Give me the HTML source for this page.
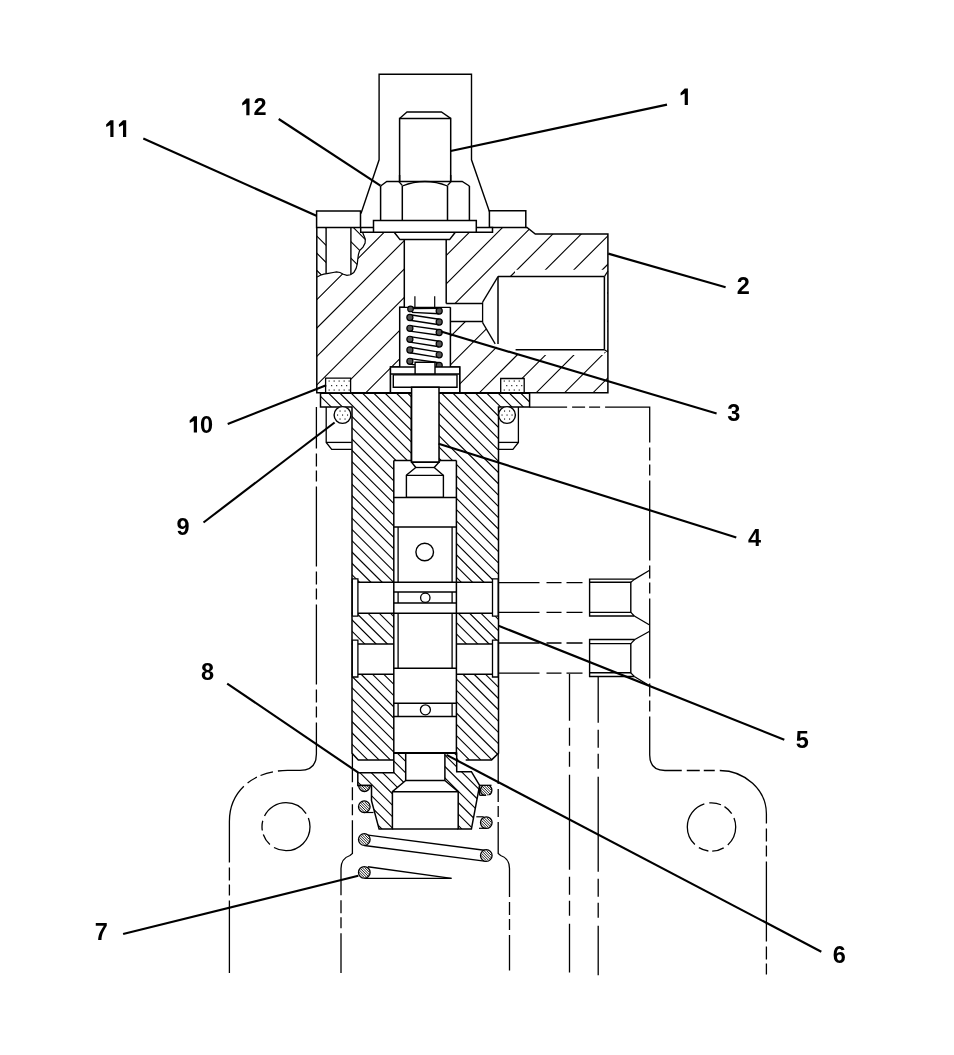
<!DOCTYPE html>
<html><head><meta charset="utf-8"><style>
html,body{margin:0;padding:0;background:#fff;width:954px;height:1055px;overflow:hidden}
svg{display:block;will-change:transform}
text{font-family:"Liberation Sans",sans-serif;font-weight:bold;font-size:23.5px;fill:#000;stroke:none}
</style></head><body>
<svg width="954" height="1055" viewBox="0 0 954 1055" stroke="#000" stroke-linecap="butt" stroke-linejoin="miter">
<defs><clipPath id="c1"><polygon points="316.8,227.4 360.7,227.4 360.7,232.2 492.5,232.2 492.5,227.4 527,227.4 535.3,234 607.9,234 607.9,392.8 316.8,392.8"/></clipPath><clipPath id="c2"><polygon points="316.9,227.4 326.1,227.4 326.1,273.6 323.8,274.2 320.4,275.3 318.1,276.5 316.9,277"/></clipPath><clipPath id="c3"><polygon points="350.9,227.4 360.7,227.4 360.7,232.2 362.5,232.2 365.3,239 365.1,243 363,247.1 359.6,250.6 358.4,254.6 357.8,259.2 357.3,263.8 356.1,268.4 353.8,272.5 350.9,274.6"/></clipPath><clipPath id="c4"><polygon points="320.5,393.3 529.6,393.3 529.6,407 498.5,407 498.5,753.3 491.6,759.9 358.3,759.9 352,753.3 352,407 320.5,407"/></clipPath><clipPath id="c5"><polygon points="357.8,772.7 393.8,772.7 393.8,753.3 405.7,753.3 405.7,780.5 392.4,791.7 392.4,829.1 379.1,829.1 371.5,800.7 371.5,785.5 357.8,785.5"/></clipPath><clipPath id="c6"><polygon points="444.9,753.3 456.7,753.3 456.7,771.7 471.4,771.7 479.6,785.3 471.4,829.1 458.2,829.1 458.2,791.7 444.9,780.5"/></clipPath><clipPath id="hc1"><rect x="350" y="785.5" width="30" height="20"/></clipPath><clipPath id="c7"><circle cx="364.4" cy="785.8" r="5.1"/></clipPath><clipPath id="c8"><circle cx="364.3" cy="806.7" r="5.2"/></clipPath><clipPath id="c9"><circle cx="364.3" cy="839.5" r="5.2"/></clipPath><clipPath id="c10"><circle cx="364.3" cy="872.4" r="5.2"/></clipPath><clipPath id="c11"><circle cx="486.3" cy="822.6" r="5.2"/></clipPath><clipPath id="c12"><circle cx="486.3" cy="855.5" r="5.2"/></clipPath><clipPath id="hc2"><rect x="479.6" y="785.3" width="20" height="10"/></clipPath><clipPath id="c13"><circle cx="486.2" cy="790.3" r="5.1"/></clipPath></defs>
<rect width="954" height="1055" fill="#fff" stroke="none"/>
<path clip-path="url(#c1)" d="M166.9,392.8L332.3,227.4M195.3,392.8L360.7,227.4M223.7,392.8L389.1,227.4M252.1,392.8L417.5,227.4M280.5,392.8L445.9,227.4M308.9,392.8L474.3,227.4M337.3,392.8L502.7,227.4M365.7,392.8L531.1,227.4M394.1,392.8L559.5,227.4M422.5,392.8L587.9,227.4M450.9,392.8L616.3,227.4M479.3,392.8L644.7,227.4M507.7,392.8L673.1,227.4M536.1,392.8L701.5,227.4M564.5,392.8L729.9,227.4M592.9,392.8L758.3,227.4" stroke-width="1.1" fill="none"/>
<polygon points="316.9,227.4 360.7,227.4 360.7,232.2 362.5,232.2 365.3,239 365.1,243 363,247.1 359.6,250.6 358.4,254.6 357.8,259.2 357.3,263.8 356.1,268.4 353.8,272.5 350.4,274.8 346.9,275.3 343.4,274.2 340,272.5 336.5,271.9 333.1,272.5 328.4,273.3 323.8,274.2 320.4,275.3 318.1,276.5 316.9,277" fill="#fff" stroke="none" />
<path clip-path="url(#c2)" d="M273.8,227.4L323.4,277M291,227.4L340.6,277M308.2,227.4L357.8,277M325.4,227.4L375,277" stroke-width="1.1" fill="none"/>
<path clip-path="url(#c3)" d="M303.7,227.4L350.9,274.6M320.2,227.4L367.4,274.6M336.7,227.4L383.9,274.6M353.2,227.4L400.4,274.6" stroke-width="1.1" fill="none"/>
<polyline points="360.7,232.2 362.5,232.2 365.3,239 365.1,243 363,247.1 359.6,250.6 358.4,254.6 357.8,259.2 357.3,263.8 356.1,268.4 353.8,272.5 350.4,274.8 346.9,275.3 343.4,274.2 340,272.5 336.5,271.9 333.1,272.5 328.4,273.3 323.8,274.2 320.4,275.3 318.1,276.5 316.9,277" fill="none" stroke-width="1.2" />
<line x1="326.1" y1="227.4" x2="326.1" y2="273.4" stroke-width="1.4" />
<line x1="350.9" y1="227.4" x2="350.9" y2="274.6" stroke-width="1.4" />
<polygon points="394.2,232.3 455.3,232.3 449.6,239.6 400,239.6" fill="#fff" stroke="none" />
<polygon points="404.3,239.6 446.2,239.6 446.2,307.3 404.3,307.3" fill="#fff" stroke="none" />
<polygon points="399.7,307.3 450.4,307.3 450.4,367 399.7,367" fill="#fff" stroke="none" />
<polygon points="390.5,367 459.7,367 459.7,392.8 390.5,392.8" fill="#fff" stroke="none" />
<polygon points="446.2,303.4 482.6,303.4 482.6,321.6 446.2,321.6" fill="#fff" stroke="none" />
<polygon points="482.6,302.2 498,276.6 604.4,276.6 604.4,349.7 498,349.7 482.6,322.7" fill="#fff" stroke="none" />
<polygon points="515,269.8 604.4,269.8 604.4,276.6 515,276.6" fill="#fff" stroke="none" />
<polygon points="604.4,271 607.2,271 607.2,352 604.4,352" fill="#fff" stroke="none" />
<polygon points="515,349.7 604.4,349.7 604.4,355 515,355" fill="#fff" stroke="none" />
<polyline points="316.8,227.4 316.8,392.8 607.9,392.8 607.9,234 535.3,234 527,227.4 525.8,227.4" fill="none" stroke-width="1.5" />
<polygon points="316.6,211 360.5,211 360.5,227.4 316.6,227.4" fill="#fff" stroke-width="1.5" />
<polygon points="489.4,210.8 525.8,210.8 525.8,227.4 489.4,227.4" fill="#fff" stroke-width="1.5" />
<polygon points="360.7,227.4 492.5,227.4 492.5,232.2 360.7,232.2" fill="#fff" stroke-width="1.5" />
<polyline points="394.2,232.3 400,239.6 449.6,239.6 455.3,232.3" fill="none" stroke-width="1.5" />
<line x1="404.3" y1="239.6" x2="404.3" y2="307.3" stroke-width="1.5" />
<line x1="446.2" y1="239.6" x2="446.2" y2="303.4" stroke-width="1.5" />
<polyline points="404.3,307.3 399.7,307.3 399.7,367 390.5,367 390.5,392.8" fill="none" stroke-width="1.5" />
<polyline points="450.4,307.3 450.4,367 459.7,367 459.7,392.8" fill="none" stroke-width="1.5" />
<line x1="399.7" y1="307.3" x2="450.4" y2="307.3" stroke-width="1.2" />
<line x1="414.9" y1="296.3" x2="414.9" y2="307.3" stroke-width="1.2" />
<line x1="434.7" y1="296.3" x2="434.7" y2="307.3" stroke-width="1.2" />
<line x1="446.2" y1="303.4" x2="482.6" y2="303.4" stroke-width="1.5" />
<line x1="450.4" y1="321.6" x2="482.6" y2="321.6" stroke-width="1.5" />
<line x1="482.6" y1="302.2" x2="482.6" y2="322.7" stroke-width="1.3" />
<line x1="482.6" y1="302.2" x2="498" y2="276.6" stroke-width="1.3" />
<line x1="482.6" y1="322.7" x2="495.2" y2="343.9" stroke-width="1.3" />
<line x1="498" y1="276.6" x2="604.4" y2="276.6" stroke-width="1.5" />
<line x1="498" y1="276.6" x2="498" y2="343.9" stroke-width="1.5" />
<line x1="515.6" y1="349.7" x2="604.4" y2="349.7" stroke-width="1.5" />
<line x1="604.4" y1="276.6" x2="604.4" y2="349.7" stroke-width="1.5" />
<line x1="604.4" y1="276.6" x2="607.9" y2="271" stroke-width="1.2" />
<line x1="604.4" y1="349.7" x2="607.9" y2="352" stroke-width="1.2" />
<line x1="409.9" y1="314.75" x2="439.2" y2="319.25" stroke-width="1.3" />
<line x1="409.9" y1="320.25" x2="439.2" y2="324.75" stroke-width="1.3" />
<line x1="409.9" y1="325.55" x2="439.2" y2="329.75" stroke-width="1.3" />
<line x1="409.9" y1="331.05" x2="439.2" y2="335.25" stroke-width="1.3" />
<line x1="409.9" y1="336.55" x2="439.2" y2="341.25" stroke-width="1.3" />
<line x1="409.9" y1="342.05" x2="439.2" y2="346.75" stroke-width="1.3" />
<line x1="409.9" y1="347.25" x2="439.2" y2="352.05" stroke-width="1.3" />
<line x1="409.9" y1="352.75" x2="439.2" y2="357.55" stroke-width="1.3" />
<line x1="409.9" y1="358.55" x2="439.2" y2="362.75" stroke-width="1.3" />
<line x1="409.9" y1="364.05" x2="439.2" y2="368.25" stroke-width="1.3" />
<line x1="412" y1="308.5" x2="439.2" y2="308.25" stroke-width="1.3" />
<line x1="412" y1="312.3" x2="439.2" y2="313.75" stroke-width="1.3" />
<circle cx="410.5" cy="308.9" r="2.8" fill="#555" stroke-width="1.1" />
<circle cx="409.9" cy="317.5" r="3.05" fill="#555" stroke-width="1.2" />
<circle cx="409.9" cy="328.3" r="3.05" fill="#555" stroke-width="1.2" />
<circle cx="409.9" cy="339.3" r="3.05" fill="#555" stroke-width="1.2" />
<circle cx="409.9" cy="350" r="3.05" fill="#555" stroke-width="1.2" />
<circle cx="409.9" cy="361.3" r="3.05" fill="#555" stroke-width="1.2" />
<circle cx="439.2" cy="311" r="3.05" fill="#555" stroke-width="1.2" />
<circle cx="439.2" cy="322" r="3.05" fill="#555" stroke-width="1.2" />
<circle cx="439.2" cy="332.5" r="3.05" fill="#555" stroke-width="1.2" />
<circle cx="439.2" cy="344" r="3.05" fill="#555" stroke-width="1.2" />
<circle cx="439.2" cy="354.8" r="3.05" fill="#555" stroke-width="1.2" />
<circle cx="439.2" cy="365.5" r="3.05" fill="#555" stroke-width="1.2" />
<polygon points="390.5,367 459.7,367 459.7,392.8 390.5,392.8" fill="#fff" stroke-width="1.4" />
<line x1="390.5" y1="373.9" x2="459.7" y2="373.9" stroke-width="1.5" />
<polygon points="393.3,374.9 457,374.9 457,387.3 393.3,387.3" fill="#fff" stroke-width="1.4" />
<polygon points="415.1,362.3 435,362.3 435,373.9 415.1,373.9" fill="#fff" stroke-width="1.4" />
<polygon points="325.6,378.2 350.6,378.2 350.6,392.8 325.6,392.8" fill="#fff" stroke-width="1.3" />
<rect x="328.6" y="380.5" width="1.1" height="1.1" fill="#000" stroke="none"/>
<rect x="333.6" y="380.5" width="1.1" height="1.1" fill="#000" stroke="none"/>
<rect x="338.6" y="380.5" width="1.1" height="1.1" fill="#000" stroke="none"/>
<rect x="343.6" y="380.5" width="1.1" height="1.1" fill="#000" stroke="none"/>
<rect x="348.6" y="380.5" width="1.1" height="1.1" fill="#000" stroke="none"/>
<rect x="331.1" y="385.1" width="1.1" height="1.1" fill="#000" stroke="none"/>
<rect x="336.1" y="385.1" width="1.1" height="1.1" fill="#000" stroke="none"/>
<rect x="341.1" y="385.1" width="1.1" height="1.1" fill="#000" stroke="none"/>
<rect x="346.1" y="385.1" width="1.1" height="1.1" fill="#000" stroke="none"/>
<rect x="328.6" y="389.5" width="1.1" height="1.1" fill="#000" stroke="none"/>
<rect x="333.6" y="389.5" width="1.1" height="1.1" fill="#000" stroke="none"/>
<rect x="338.6" y="389.5" width="1.1" height="1.1" fill="#000" stroke="none"/>
<rect x="343.6" y="389.5" width="1.1" height="1.1" fill="#000" stroke="none"/>
<rect x="348.6" y="389.5" width="1.1" height="1.1" fill="#000" stroke="none"/>
<polygon points="500.7,378.5 524.2,378.5 524.2,392.6 500.7,392.6" fill="#fff" stroke-width="1.3" />
<rect x="503.7" y="380.5" width="1.1" height="1.1" fill="#000" stroke="none"/>
<rect x="508.7" y="380.5" width="1.1" height="1.1" fill="#000" stroke="none"/>
<rect x="513.7" y="380.5" width="1.1" height="1.1" fill="#000" stroke="none"/>
<rect x="518.7" y="380.5" width="1.1" height="1.1" fill="#000" stroke="none"/>
<rect x="506.2" y="385.1" width="1.1" height="1.1" fill="#000" stroke="none"/>
<rect x="511.2" y="385.1" width="1.1" height="1.1" fill="#000" stroke="none"/>
<rect x="516.2" y="385.1" width="1.1" height="1.1" fill="#000" stroke="none"/>
<rect x="521.2" y="385.1" width="1.1" height="1.1" fill="#000" stroke="none"/>
<rect x="503.7" y="389.5" width="1.1" height="1.1" fill="#000" stroke="none"/>
<rect x="508.7" y="389.5" width="1.1" height="1.1" fill="#000" stroke="none"/>
<rect x="513.7" y="389.5" width="1.1" height="1.1" fill="#000" stroke="none"/>
<rect x="518.7" y="389.5" width="1.1" height="1.1" fill="#000" stroke="none"/>
<polyline points="361,213.5 379.1,159.8 379.1,74.2 471.5,74.2 471.5,159.8 489.4,211.5" fill="none" stroke-width="1.4" />
<polyline points="399.6,181.5 399.6,118.4 450.7,118.4 450.7,181.5" fill="none" stroke-width="1.5" />
<polyline points="399.6,118.4 407,112 441.4,112 450.7,118.4" fill="none" stroke-width="1.3" />
<polygon points="380.6,181.5 469.4,181.5 469.4,220.4 380.6,220.4" fill="#fff" stroke="none" />
<line x1="380.6" y1="186" x2="380.6" y2="220.4" stroke-width="1.5" />
<line x1="469.4" y1="186" x2="469.4" y2="220.4" stroke-width="1.5" />
<line x1="402.3" y1="186" x2="402.3" y2="220.4" stroke-width="1.5" />
<line x1="447.5" y1="186" x2="447.5" y2="220.4" stroke-width="1.5" />
<path d="M380.6,186 L386.8,181.5 L462.2,181.5 L469.4,186" fill="none" stroke-width="1.4" />
<path d="M402.3,186 Q425,177 447.5,186" fill="none" stroke-width="1.3" />
<line x1="398.8" y1="181.5" x2="402.3" y2="185.5" stroke-width="1.2" />
<line x1="451.1" y1="181.5" x2="447.5" y2="185.5" stroke-width="1.2" />
<line x1="399.6" y1="181.5" x2="399.6" y2="175" stroke-width="1.5" />
<line x1="450.7" y1="181.5" x2="450.7" y2="175" stroke-width="1.5" />
<polygon points="373.5,220.4 476.3,220.4 476.3,232.3 373.5,232.3" fill="#fff" stroke-width="1.5" />
<path clip-path="url(#c4)" d="M-44.1,393.3L322.5,759.9M-32.8,393.3L333.8,759.9M-21.5,393.3L345.1,759.9M-10.2,393.3L356.4,759.9M1.1,393.3L367.7,759.9M12.4,393.3L379,759.9M23.7,393.3L390.3,759.9M35,393.3L401.6,759.9M46.3,393.3L412.9,759.9M57.6,393.3L424.2,759.9M68.9,393.3L435.5,759.9M80.2,393.3L446.8,759.9M91.5,393.3L458.1,759.9M102.8,393.3L469.4,759.9M114.1,393.3L480.7,759.9M125.4,393.3L492,759.9M136.7,393.3L503.3,759.9M148,393.3L514.6,759.9M159.3,393.3L525.9,759.9M170.6,393.3L537.2,759.9M181.9,393.3L548.5,759.9M193.2,393.3L559.8,759.9M204.5,393.3L571.1,759.9M215.8,393.3L582.4,759.9M227.1,393.3L593.7,759.9M238.4,393.3L605,759.9M249.7,393.3L616.3,759.9M261,393.3L627.6,759.9M272.3,393.3L638.9,759.9M283.6,393.3L650.2,759.9M294.9,393.3L661.5,759.9M306.2,393.3L672.8,759.9M317.5,393.3L684.1,759.9M328.8,393.3L695.4,759.9M340.1,393.3L706.7,759.9M351.4,393.3L718,759.9M362.7,393.3L729.3,759.9M374,393.3L740.6,759.9M385.3,393.3L751.9,759.9M396.6,393.3L763.2,759.9M407.9,393.3L774.5,759.9M419.2,393.3L785.8,759.9M430.5,393.3L797.1,759.9M441.8,393.3L808.4,759.9M453.1,393.3L819.7,759.9M464.4,393.3L831,759.9M475.7,393.3L842.3,759.9M487,393.3L853.6,759.9M498.3,393.3L864.9,759.9M509.6,393.3L876.2,759.9M520.9,393.3L887.5,759.9" stroke-width="1.1" fill="none"/>
<polygon points="411.3,393.3 438.5,393.3 438.5,460.4 411.3,460.4" fill="#fff" stroke="none" />
<polygon points="393.8,460.4 456.4,460.4 456.4,772 393.8,772" fill="#fff" stroke="none" />
<polygon points="351.7,582.3 498.5,582.3 498.5,613.2 351.7,613.2" fill="#fff" stroke="none" />
<polygon points="351.7,644 498.5,644 498.5,674.2 351.7,674.2" fill="#fff" stroke="none" />
<polyline points="393.8,759.9 358.3,759.9 352,753.3 352,407 320.5,407 320.5,393.3 529.6,393.3 529.6,407 498.5,407 498.5,753.3 491.6,759.9 465.7,759.9" fill="none" stroke-width="1.5" />
<line x1="411.3" y1="393.3" x2="411.3" y2="460.4" stroke-width="1.5" />
<line x1="438.5" y1="393.3" x2="438.5" y2="460.4" stroke-width="1.5" />
<line x1="393.8" y1="460.4" x2="456.4" y2="460.4" stroke-width="1.5" />
<line x1="393.8" y1="460.4" x2="393.8" y2="753.3" stroke-width="1.5" />
<line x1="456.4" y1="460.4" x2="456.4" y2="753.3" stroke-width="1.5" />
<line x1="351.7" y1="582.3" x2="393.8" y2="582.3" stroke-width="1.5" />
<line x1="456.4" y1="582.3" x2="498.5" y2="582.3" stroke-width="1.5" />
<line x1="351.7" y1="613.2" x2="393.8" y2="613.2" stroke-width="1.5" />
<line x1="456.4" y1="613.2" x2="498.5" y2="613.2" stroke-width="1.5" />
<line x1="351.7" y1="644" x2="393.8" y2="644" stroke-width="1.5" />
<line x1="456.4" y1="644" x2="498.5" y2="644" stroke-width="1.5" />
<line x1="351.7" y1="674.2" x2="393.8" y2="674.2" stroke-width="1.5" />
<line x1="456.4" y1="674.2" x2="498.5" y2="674.2" stroke-width="1.5" />
<polygon points="352.3,578.9 357.9,578.9 357.9,616.2 352.3,616.2" fill="#fff" stroke-width="1.3" />
<polygon points="492.5,578.9 498.1,578.9 498.1,616.2 492.5,616.2" fill="#fff" stroke-width="1.3" />
<polygon points="352.3,640.2 357.9,640.2 357.9,677 352.3,677" fill="#fff" stroke-width="1.3" />
<polygon points="492.5,640.2 498.1,640.2 498.1,677 492.5,677" fill="#fff" stroke-width="1.3" />
<polygon points="411.6,387.3 439,387.3 439,462.3 411.6,462.3" fill="#fff" stroke-width="1.5" />
<polygon points="411.6,462.3 439,462.3 434.2,467.5 442.7,474.7 443.4,475.3 443.4,497.4 406.4,497.4 406.4,475.3 406.9,474.7 415.8,467.5" fill="#fff" stroke-width="1.4" />
<line x1="415.8" y1="467.5" x2="434.2" y2="467.5" stroke-width="1.3" />
<line x1="406.4" y1="475.3" x2="443.4" y2="475.3" stroke-width="1.3" />
<line x1="393.8" y1="497.6" x2="456.4" y2="497.6" stroke-width="1.5" />
<line x1="393.8" y1="526.9" x2="456.4" y2="526.9" stroke-width="1.5" />
<line x1="393.8" y1="582.3" x2="456.4" y2="582.3" stroke-width="1.5" />
<line x1="393.8" y1="592.1" x2="456.4" y2="592.1" stroke-width="1.5" />
<line x1="393.8" y1="603" x2="456.4" y2="603" stroke-width="1.5" />
<line x1="393.8" y1="613.2" x2="456.4" y2="613.2" stroke-width="1.5" />
<line x1="393.8" y1="668.3" x2="456.4" y2="668.3" stroke-width="1.5" />
<line x1="393.8" y1="703.3" x2="456.4" y2="703.3" stroke-width="1.5" />
<line x1="393.8" y1="716.6" x2="456.4" y2="716.6" stroke-width="1.5" />
<line x1="393.8" y1="752.8" x2="456.4" y2="752.8" stroke-width="1.5" />
<line x1="398.1" y1="526.9" x2="398.1" y2="582.3" stroke-width="1.3" />
<line x1="452.1" y1="526.9" x2="452.1" y2="582.3" stroke-width="1.3" />
<line x1="398.1" y1="613.2" x2="398.1" y2="668.3" stroke-width="1.3" />
<line x1="452.1" y1="613.2" x2="452.1" y2="668.3" stroke-width="1.3" />
<line x1="398.1" y1="703.3" x2="398.1" y2="716.6" stroke-width="1.3" />
<line x1="452.1" y1="703.3" x2="452.1" y2="716.6" stroke-width="1.3" />
<line x1="398.1" y1="592.1" x2="398.1" y2="603" stroke-width="1.3" />
<line x1="452.1" y1="592.1" x2="452.1" y2="603" stroke-width="1.3" />
<circle cx="424.7" cy="552" r="8.8" fill="#fff" stroke-width="1.4" />
<circle cx="425.3" cy="597.7" r="4.7" fill="#fff" stroke-width="1.3" />
<circle cx="425.4" cy="709.8" r="5" fill="#fff" stroke-width="1.3" />
<polyline points="326.2,407 326.2,442.4 331.7,449.3 351.7,449.3" fill="none" stroke-width="1.3" />
<line x1="326.2" y1="442.4" x2="351.7" y2="442.4" stroke-width="1.3" />
<polyline points="518.4,407 518.4,442.4 512.9,449.3 498.5,449.3" fill="none" stroke-width="1.3" />
<line x1="498.5" y1="442.4" x2="518.4" y2="442.4" stroke-width="1.3" />
<circle cx="342.5" cy="415" r="8.4" fill="#fff" stroke-width="1.4" />
<rect x="339.5" y="410.5" width="1.1" height="1.1" fill="#000" stroke="none"/>
<rect x="344.5" y="410.5" width="1.1" height="1.1" fill="#000" stroke="none"/>
<rect x="337" y="414.5" width="1.1" height="1.1" fill="#000" stroke="none"/>
<rect x="342" y="414.5" width="1.1" height="1.1" fill="#000" stroke="none"/>
<rect x="347" y="414.5" width="1.1" height="1.1" fill="#000" stroke="none"/>
<rect x="339.5" y="418.5" width="1.1" height="1.1" fill="#000" stroke="none"/>
<rect x="344.5" y="418.5" width="1.1" height="1.1" fill="#000" stroke="none"/>
<circle cx="507" cy="415" r="8.4" fill="#fff" stroke-width="1.4" />
<rect x="504" y="410.5" width="1.1" height="1.1" fill="#000" stroke="none"/>
<rect x="509" y="410.5" width="1.1" height="1.1" fill="#000" stroke="none"/>
<rect x="501.5" y="414.5" width="1.1" height="1.1" fill="#000" stroke="none"/>
<rect x="506.5" y="414.5" width="1.1" height="1.1" fill="#000" stroke="none"/>
<rect x="511.5" y="414.5" width="1.1" height="1.1" fill="#000" stroke="none"/>
<rect x="504" y="418.5" width="1.1" height="1.1" fill="#000" stroke="none"/>
<rect x="509" y="418.5" width="1.1" height="1.1" fill="#000" stroke="none"/>
<path clip-path="url(#c5)" d="M283.5,753.3L359.3,829.1M294.9,753.3L370.7,829.1M306.3,753.3L382.1,829.1M317.7,753.3L393.5,829.1M329.1,753.3L404.9,829.1M340.5,753.3L416.3,829.1M351.9,753.3L427.7,829.1M363.3,753.3L439.1,829.1M374.7,753.3L450.5,829.1M386.1,753.3L461.9,829.1M397.5,753.3L473.3,829.1" stroke-width="1.1" fill="none"/>
<path clip-path="url(#c6)" d="M374.7,753.3L450.5,829.1M386.1,753.3L461.9,829.1M397.5,753.3L473.3,829.1M408.9,753.3L484.7,829.1M420.3,753.3L496.1,829.1M431.7,753.3L507.5,829.1M443.1,753.3L518.9,829.1M454.5,753.3L530.3,829.1M465.9,753.3L541.7,829.1M477.3,753.3L553.1,829.1" stroke-width="1.1" fill="none"/>
<polygon points="357.8,772.7 393.8,772.7 393.8,753.3 405.7,753.3 405.7,780.5 392.4,791.7 392.4,829.1 379.1,829.1 371.5,800.7 371.5,785.5 357.8,785.5" fill="none" stroke-width="1.5" />
<polygon points="444.9,753.3 456.7,753.3 456.7,771.7 471.4,771.7 479.6,785.3 471.4,829.1 458.2,829.1 458.2,791.7 444.9,780.5" fill="none" stroke-width="1.5" />
<line x1="392.4" y1="829.1" x2="458.2" y2="829.1" stroke-width="1.5" />
<line x1="405.7" y1="780.5" x2="444.9" y2="780.5" stroke-width="1.4" />
<line x1="392.4" y1="791.7" x2="458.2" y2="791.7" stroke-width="1.4" />
<line x1="405.7" y1="753.3" x2="444.9" y2="753.3" stroke-width="1.4" />
<line x1="364.3" y1="834.6" x2="486.3" y2="850.5" stroke-width="1.4" />
<line x1="364.3" y1="845.5" x2="486.3" y2="861.4" stroke-width="1.4" />
<line x1="367.8" y1="866.8" x2="451.5" y2="878.4" stroke-width="1.4" />
<line x1="364.3" y1="878.4" x2="451.5" y2="878.4" stroke-width="1.4" />
<g clip-path="url(#hc1)">
<circle cx="364.4" cy="785.8" r="5.7" fill="#fff" stroke-width="1.3" />
<path clip-path="url(#c7)" d="M351.5,780.7L361.7,790.9M354.1,780.7L364.3,790.9M356.7,780.7L366.9,790.9M359.3,780.7L369.5,790.9M361.9,780.7L372.1,790.9M364.5,780.7L374.7,790.9M367.1,780.7L377.3,790.9" stroke-width="0.9" fill="none"/>
</g>
<line x1="357.8" y1="785.5" x2="371.5" y2="785.5" stroke-width="1.5" />
<circle cx="364.3" cy="806.7" r="5.8" fill="#fff" stroke-width="1.3" />
<path clip-path="url(#c8)" d="M348.7,801.5L359.1,811.9M351.3,801.5L361.7,811.9M353.9,801.5L364.3,811.9M356.5,801.5L366.9,811.9M359.1,801.5L369.5,811.9M361.7,801.5L372.1,811.9M364.3,801.5L374.7,811.9M366.9,801.5L377.3,811.9" stroke-width="0.9" fill="none"/>
<circle cx="364.3" cy="839.5" r="5.8" fill="#fff" stroke-width="1.3" />
<path clip-path="url(#c9)" d="M348.7,834.3L359.1,844.7M351.3,834.3L361.7,844.7M353.9,834.3L364.3,844.7M356.5,834.3L366.9,844.7M359.1,834.3L369.5,844.7M361.7,834.3L372.1,844.7M364.3,834.3L374.7,844.7M366.9,834.3L377.3,844.7" stroke-width="0.9" fill="none"/>
<circle cx="364.3" cy="872.4" r="5.8" fill="#fff" stroke-width="1.3" />
<path clip-path="url(#c10)" d="M348.7,867.2L359.1,877.6M351.3,867.2L361.7,877.6M353.9,867.2L364.3,877.6M356.5,867.2L366.9,877.6M359.1,867.2L369.5,877.6M361.7,867.2L372.1,877.6M364.3,867.2L374.7,877.6M366.9,867.2L377.3,877.6" stroke-width="0.9" fill="none"/>
<circle cx="486.3" cy="822.6" r="5.8" fill="#fff" stroke-width="1.3" />
<path clip-path="url(#c11)" d="M470.7,817.4L481.1,827.8M473.3,817.4L483.7,827.8M475.9,817.4L486.3,827.8M478.5,817.4L488.9,827.8M481.1,817.4L491.5,827.8M483.7,817.4L494.1,827.8M486.3,817.4L496.7,827.8M488.9,817.4L499.3,827.8" stroke-width="0.9" fill="none"/>
<circle cx="486.3" cy="855.5" r="5.8" fill="#fff" stroke-width="1.3" />
<path clip-path="url(#c12)" d="M470.7,850.3L481.1,860.7M473.3,850.3L483.7,860.7M475.9,850.3L486.3,860.7M478.5,850.3L488.9,860.7M481.1,850.3L491.5,860.7M483.7,850.3L494.1,860.7M486.3,850.3L496.7,860.7M488.9,850.3L499.3,860.7" stroke-width="0.9" fill="none"/>
<line x1="364.3" y1="812.5" x2="373.5" y2="812.5" stroke-width="1.2" />
<line x1="476.3" y1="816.8" x2="483.7" y2="816.8" stroke-width="1.2" />
<g clip-path="url(#hc2)">
<circle cx="486.2" cy="790.3" r="5.7" fill="#fff" stroke-width="1.3" />
<path clip-path="url(#c13)" d="M473.3,785.2L483.5,795.4M475.9,785.2L486.1,795.4M478.5,785.2L488.7,795.4M481.1,785.2L491.3,795.4M483.7,785.2L493.9,795.4M486.3,785.2L496.5,795.4M488.9,785.2L499.1,795.4" stroke-width="0.9" fill="none"/>
</g>
<line x1="479.6" y1="785.3" x2="491.5" y2="785.3" stroke-width="1.3" />
<line x1="479.6" y1="795.3" x2="486" y2="795.3" stroke-width="1.3" />
<line x1="479.6" y1="785.3" x2="479.6" y2="795.3" stroke-width="1.3" />
<line x1="479" y1="828.3" x2="486" y2="828.3" stroke-width="1.2" />
<path d="M316.4,407 L316.4,754 Q316.4,770.4 300,770.4 L287.5,770.4 C255,770.4 229.4,790 229.4,821.4 L229.4,973" fill="none" stroke-width="1.3" stroke-dasharray="80 5 13 4 11 5" stroke-dashoffset="38.5"/>
<path d="M529.6,407.2 L649.7,407.2 L649.7,755 Q649.7,770.5 665,770.5 L719.5,770.5 C745,770.5 766.4,790 766.4,813.7 L766.4,974.5" fill="none" stroke-width="1.3" stroke-dasharray="80 5 13 4 11 5" stroke-dashoffset="42.5"/>
<circle cx="286" cy="826.7" r="24" fill="none" stroke-width="1.3" stroke-dasharray="50 5 12 4 10 5"/>
<circle cx="711.5" cy="827" r="24.2" fill="none" stroke-width="1.3" stroke-dasharray="50 5 12 4 10 5" stroke-dashoffset="30"/>
<path d="M352.4,753.3 L352.4,853.5 L350,855.5 Q341,858.5 341,868.6 L341,973" fill="none" stroke-width="1.3" stroke-dasharray="80 5 13 4 11 5" stroke-dashoffset="51"/>
<path d="M498.2,753.3 L498.2,853.5 L500.6,855.5 Q509.5,858.5 509.5,868.6 L509.5,970.5" fill="none" stroke-width="1.3" stroke-dasharray="80 5 13 4 11 5" stroke-dashoffset="49.3"/>
<path d="M569.5,674 L569.5,972.4" fill="none" stroke-width="1.3" stroke-dasharray="95 7 18 6 15 8" stroke-dashoffset="48.2"/>
<path d="M598.2,674 L598.2,975.3" fill="none" stroke-width="1.3" stroke-dasharray="95 7 18 6 15 8" stroke-dashoffset="46.3"/>
<path d="M498.5,582.6 L589,582.6" fill="none" stroke-width="1.3" stroke-dasharray="41 7 15 5 16 7" stroke-dashoffset="0"/>
<path d="M498.5,612.3 L589,612.3" fill="none" stroke-width="1.3" stroke-dasharray="41 7 15 5 16 7" stroke-dashoffset="0"/>
<path d="M498.5,643 L589,643" fill="none" stroke-width="1.3" stroke-dasharray="41 7 15 5 16 7" stroke-dashoffset="0"/>
<path d="M498.5,673.2 L589,673.2" fill="none" stroke-width="1.3" stroke-dasharray="41 7 15 5 16 7" stroke-dashoffset="0"/>
<polygon points="589.6,579.1 634.8,579.1 634.3,616 589.6,616" fill="#fff" stroke="none" />
<polyline points="634.8,579.1 589.6,579.1 589.6,616 634.3,616" fill="none" stroke-width="1.4" />
<polyline points="589.6,582.2 630.8,582.2 630.8,612.4 589.6,612.4" fill="none" stroke-width="1.4" />
<line x1="630.8" y1="582.2" x2="634.8" y2="579.1" stroke-width="1.2" />
<line x1="630.8" y1="612.4" x2="634.3" y2="616" stroke-width="1.2" />
<line x1="634.8" y1="579.1" x2="649.2" y2="570.5" stroke-width="1.3" />
<line x1="634.3" y1="616" x2="649.2" y2="624.7" stroke-width="1.3" />
<polygon points="589.6,639.5 634.8,639.5 634.3,676.5 589.6,676.5" fill="#fff" stroke="none" />
<polyline points="634.8,639.5 589.6,639.5 589.6,676.5 634.3,676.5" fill="none" stroke-width="1.4" />
<polyline points="589.6,643.6 630.8,643.6 630.8,672.8 589.6,672.8" fill="none" stroke-width="1.4" />
<line x1="630.8" y1="643.6" x2="634.8" y2="639.5" stroke-width="1.2" />
<line x1="630.8" y1="672.8" x2="634.3" y2="676.5" stroke-width="1.2" />
<line x1="634.8" y1="639.5" x2="649.2" y2="631.5" stroke-width="1.3" />
<line x1="634.3" y1="676.5" x2="649.2" y2="685.5" stroke-width="1.3" />
<line x1="450.7" y1="151" x2="667" y2="104.6" stroke-width="2.15" />
<line x1="278.7" y1="119" x2="380.4" y2="185.7" stroke-width="2.15" />
<line x1="143.3" y1="138.6" x2="316.4" y2="215.8" stroke-width="2.15" />
<line x1="608.3" y1="253.6" x2="725.6" y2="287.3" stroke-width="2.15" />
<line x1="441" y1="331.5" x2="716.6" y2="413.5" stroke-width="2.15" />
<line x1="227.7" y1="424" x2="326.2" y2="385.2" stroke-width="2.15" />
<line x1="203.5" y1="522.5" x2="334.6" y2="422.5" stroke-width="2.15" />
<line x1="438.6" y1="443.7" x2="736.3" y2="537.5" stroke-width="2.15" />
<line x1="498.5" y1="625.7" x2="784.3" y2="739.7" stroke-width="2.15" />
<line x1="227.2" y1="683.6" x2="358.3" y2="772.6" stroke-width="2.15" />
<line x1="446.5" y1="754.9" x2="821.3" y2="951.7" stroke-width="2.15" />
<line x1="123.1" y1="934" x2="358.3" y2="875.8" stroke-width="2.15" />
<polygon points="684.7,88.6 687.9,88.6 687.9,105 684.7,105 684.7,93.4 680.7,95.4 680.5,92.9" fill="#000" stroke="none"/>
<polygon points="246.3,98.6 249.5,98.6 249.5,115.2 246.3,115.2 246.3,103.4 242.3,105.4 242.1,102.9" fill="#000" stroke="none"/>
<text x="253.5" y="115.2">2</text>
<polygon points="110.3,120.3 113.5,120.3 113.5,136.9 110.3,136.9 110.3,125.1 106.3,127.1 106.1,124.6" fill="#000" stroke="none"/>
<polygon points="123,120.3 126.2,120.3 126.2,136.9 123,136.9 123,125.1 119,127.1 118.8,124.6" fill="#000" stroke="none"/>
<polygon points="193.8,416.3 197,416.3 197,432.6 193.8,432.6 193.8,421.1 189.8,423.1 189.6,420.6" fill="#000" stroke="none"/>
<text x="199.9" y="432.6">0</text>
<text x="736.8" y="293.5">2</text>
<text x="727.2" y="420.9">3</text>
<text x="176.6" y="535">9</text>
<text x="748" y="545.7">4</text>
<text x="795.8" y="748.3">5</text>
<text x="201" y="679.9">8</text>
<text x="832.8" y="962.5">6</text>
<text x="94.8" y="940">7</text>
</svg>
</body></html>
